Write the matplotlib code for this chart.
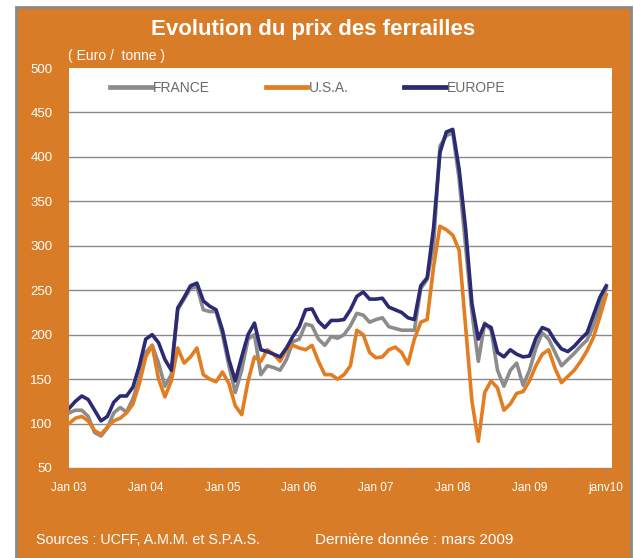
import matplotlib
matplotlib.use("Agg")
import matplotlib.pyplot as plt
from matplotlib.patches import Rectangle

plt.rcParams['font.family'] = ['Liberation Sans', 'DejaVu Sans']

# monthly values, Jan 03 .. Jan 10 (85 months)
france = [112, 115, 115, 108, 90, 86, 95, 112, 118, 113, 128, 150,
          180, 188, 168, 142, 155, 228, 240, 252, 254, 228, 226, 226,
          200, 165, 135, 160, 195, 200, 155, 165, 163, 160, 172, 192,
          195, 212, 210, 195, 188, 198, 196, 200, 210, 224, 222, 214,
          217, 219, 209, 207, 205, 205, 205, 252, 262, 300, 412, 424,
          427, 375, 300, 225, 170, 213, 205, 160, 142, 160, 168, 143,
          160, 185, 202, 195, 180, 165, 172, 179, 187, 194, 210, 232,
          252]
usa = [100, 106, 108, 103, 92, 88, 96, 103, 106, 112, 122, 145,
       175, 188, 150, 130, 148, 185, 168, 175, 185, 155, 150, 147,
       158, 145, 120, 110, 148, 175, 170, 183, 178, 170, 183, 188,
       185, 183, 188, 170, 155, 155, 150, 155, 165, 205, 200, 180,
       174, 175, 183, 186, 180, 167, 195, 214, 217, 276, 322, 318,
       312, 295, 210, 125, 80, 135, 148, 140, 115, 122, 134, 136,
       148, 165, 178, 183, 162, 146, 153, 160, 170, 182, 197, 220,
       245]
europe = [117, 125, 131, 127, 115, 103, 108, 124, 131, 131, 141, 165,
          195, 200, 191, 172, 160, 230, 242, 255, 258, 238, 232, 228,
          205, 172, 148, 175, 200, 213, 183, 181, 178, 175, 185, 198,
          209, 228, 229, 215, 208, 216, 216, 217, 228, 243, 248, 240,
          240, 241, 231, 228, 225, 219, 217, 255, 264, 320, 405, 428,
          431, 386, 320, 235, 195, 212, 208, 180, 175, 183, 178, 175,
          176, 196, 208, 205, 193, 184, 181, 187, 195, 202, 222, 242,
          255]
year_labels = ['Jan 03', 'Jan 04', 'Jan 05', 'Jan 06', 'Jan 07', 'Jan 08',
               'Jan 09', 'janv10']

W, H = 634, 558
bg = '#D97C28'
fig = plt.figure(figsize=(W / 100, H / 100), dpi=100, facecolor='white')

# orange frame with gray border, behind the axes
fig.patches.append(Rectangle((16 / W, -0.02), 615 / W, 1.02 - 7 / H,
                             transform=fig.transFigure, facecolor=bg,
                             edgecolor='#8a8a8a', linewidth=2, zorder=-5))

ax = fig.add_axes([69 / W, 1 - 468 / H, 543 / W, 400 / H])
ax.set_facecolor('white')
months = list(range(len(france)))

ax.plot(months, france, color='#8c8c8c', lw=2.6, label='FRANCE',
        solid_joinstyle='round')
ax.plot(months, usa, color='#E27D22', lw=2.6, label='U.S.A.',
        solid_joinstyle='round')
ax.plot(months, europe, color='#2B2A73', lw=2.6, label='EUROPE',
        solid_joinstyle='round')

ax.set_xlim(0, 84.9)
ax.set_ylim(50, 500)
ax.set_yticks(range(50, 501, 50))
for v in range(50, 500, 50):
    ax.axhline(v, color='#8a8a8a', lw=1, zorder=0)
ax.set_xticks(range(0, 85, 12))
ax.set_xticklabels(year_labels)
ax.set_xticks(range(6, 85, 6), minor=True)
for s in ax.spines.values():
    s.set_visible(False)
ax.tick_params(axis='y', length=0, pad=12, labelsize=9.5, labelcolor='white')
ax.tick_params(axis='x', which='both', length=3, color='#8a8a8a',
               pad=7, labelsize=8.5, labelcolor='white')

leg = ax.legend(loc='center', bbox_to_anchor=(308 / W, 1 - 88 / H),
                bbox_transform=fig.transFigure, ncol=3, frameon=False,
                handlelength=3.0, handletextpad=0.1, columnspacing=4.0,
                fontsize=10)
for t in leg.get_texts():
    t.set_color('#6a6a6a')
for h in leg.legend_handles:
    h.set_linewidth(3.4)

fig.text(313 / W, 1 - 30 / H, 'Evolution du prix des ferrailles',
         ha='center', va='center', color='white', fontsize=16,
         fontweight='bold')
fig.text(68 / W, 1 - 56 / H, '( Euro /  tonne )', ha='left', va='center',
         color='white', fontsize=10)
fig.text(36 / W, 1 - 540 / H, 'Sources : UCFF, A.M.M. et S.P.A.S.',
         ha='left', va='center', color='white', fontsize=10.3)
fig.text(315 / W, 1 - 540 / H, 'Dernière donnée : mars 2009',
         ha='left', va='center', color='white', fontsize=11)

fig.savefig('out.png', dpi=100, facecolor=fig.get_facecolor())
